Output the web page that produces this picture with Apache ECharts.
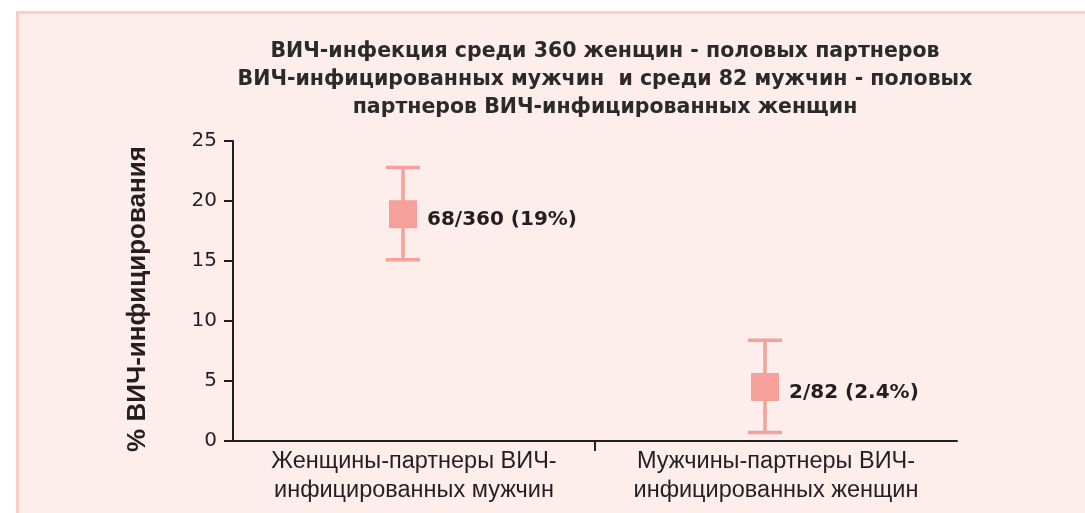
<!DOCTYPE html>
<html><head><meta charset="utf-8">
<script src="https://cdn.jsdelivr.net/npm/echarts@6/dist/echarts.min.js"></script>
<style>
html,body{margin:0;padding:0;background:#fff;}
#wrap{position:relative;width:1085px;height:513px;overflow:hidden;}
#bg{position:absolute;left:16px;top:11px;right:-10px;bottom:-10px;background:#FDEEEC;border-top:3px solid #F9CEC8;border-left:3px solid #F9CEC8;}
#chart{position:absolute;left:0;top:0;width:1085px;height:513px;}
</style></head>
<body><div id="wrap"><div id="bg"></div><div id="chart"></div></div>
<script>
var titleText = 'ВИЧ-инфекция среди 360 женщин - половых партнеров\nВИЧ-инфицированных мужчин  и среди 82 мужчин - половых\nпартнеров ВИЧ-инфицированных женщин';
var categories = ['Женщины-партнеры ВИЧ-\nинфицированных мужчин', 'Мужчины-партнеры ВИЧ-\nинфицированных женщин'];
var pointValues = [18.9, 4.5];
var lowerValues = [15.1, 0.7];
var upperValues = [22.8, 8.4];
var pointLabels = ['68/360 (19%)', '2/82 (2.4%)'];
var yTicks = [0, 5, 10, 15, 20, 25];
var yName = '% ВИЧ-инфицирования';

var ink = '#231F20';
var pink = '#F6A09B';
var data = categories.map(function (c, i) {
  return [i + 0.5, pointValues[i], lowerValues[i], upperValues[i], pointLabels[i]];
});

var chart = echarts.init(document.getElementById('chart'), null, {renderer: 'canvas'});
chart.setOption({
  backgroundColor: 'transparent',
  animation: false,
  title: {
    text: titleText,
    left: 600, top: 33, textAlign: 'center',
    textStyle: {fontFamily: 'DejaVu Sans', fontWeight: 'bold', fontSize: 20.5, lineHeight: 28, color: '#2A2A2A'}
  },
  grid: {left: 233, right: 128, top: 141, bottom: 72, containLabel: false},
  xAxis: {
    type: 'value', min: 0, max: categories.length,
    splitLine: {show: false},
    axisLine: {show: true, lineStyle: {color: ink, width: 2}},
    axisTick: {show: true, customValues: [1], length: 10, lineStyle: {color: ink, width: 2}},
    axisLabel: {
      customValues: categories.map(function (c, i) { return i + 0.5; }),
      formatter: function (v) { return categories[Math.floor(v)]; },
      margin: 6, color: ink, fontFamily: 'Liberation Sans', fontSize: 23.5, lineHeight: 29
    }
  },
  yAxis: {
    type: 'value', min: 0, max: 25, interval: 5,
    name: yName, nameLocation: 'middle', nameGap: 82,
    nameTextStyle: {fontFamily: 'Liberation Sans', fontWeight: 'bold', fontSize: 26, color: ink, padding: [0, 0, 0, -16]},
    splitLine: {show: false},
    axisLine: {show: true, lineStyle: {color: ink, width: 2}},
    axisTick: {show: true, length: 9, lineStyle: {color: ink, width: 2}},
    axisLabel: {margin: 16, color: ink, fontFamily: 'DejaVu Sans', fontSize: 20,
      formatter: function (v) { return yTicks.indexOf(v) >= 0 ? String(v) : ''; }}
  },
  series: [{
    type: 'custom',
    data: data,
    renderItem: function (params, api) {
      var shiftX = -11;
      var p = api.coord([api.value(0), api.value(1)]);
      var lo = api.coord([api.value(0), api.value(2)]);
      var hi = api.coord([api.value(0), api.value(3)]);
      var x = p[0] + shiftX;
      var cap = 17, half = 14;
      var ls = {stroke: pink, lineWidth: 3.5};
      return {
        type: 'group',
        children: [
          {type: 'line', shape: {x1: x, y1: hi[1], x2: x, y2: lo[1]}, style: ls},
          {type: 'line', shape: {x1: x - cap, y1: hi[1], x2: x + cap, y2: hi[1]}, style: ls},
          {type: 'line', shape: {x1: x - cap, y1: lo[1], x2: x + cap, y2: lo[1]}, style: ls},
          {type: 'rect', shape: {x: x - half, y: p[1] - half, width: half * 2, height: half * 2}, style: {fill: pink}},
          {type: 'text', x: x + half + 10, y: p[1] + 6,
            style: {text: api.value(4), fill: ink, font: 'bold 20px "DejaVu Sans"', align: 'left', verticalAlign: 'middle'}}
        ]
      };
    }
  }]
});
</script></body></html>
